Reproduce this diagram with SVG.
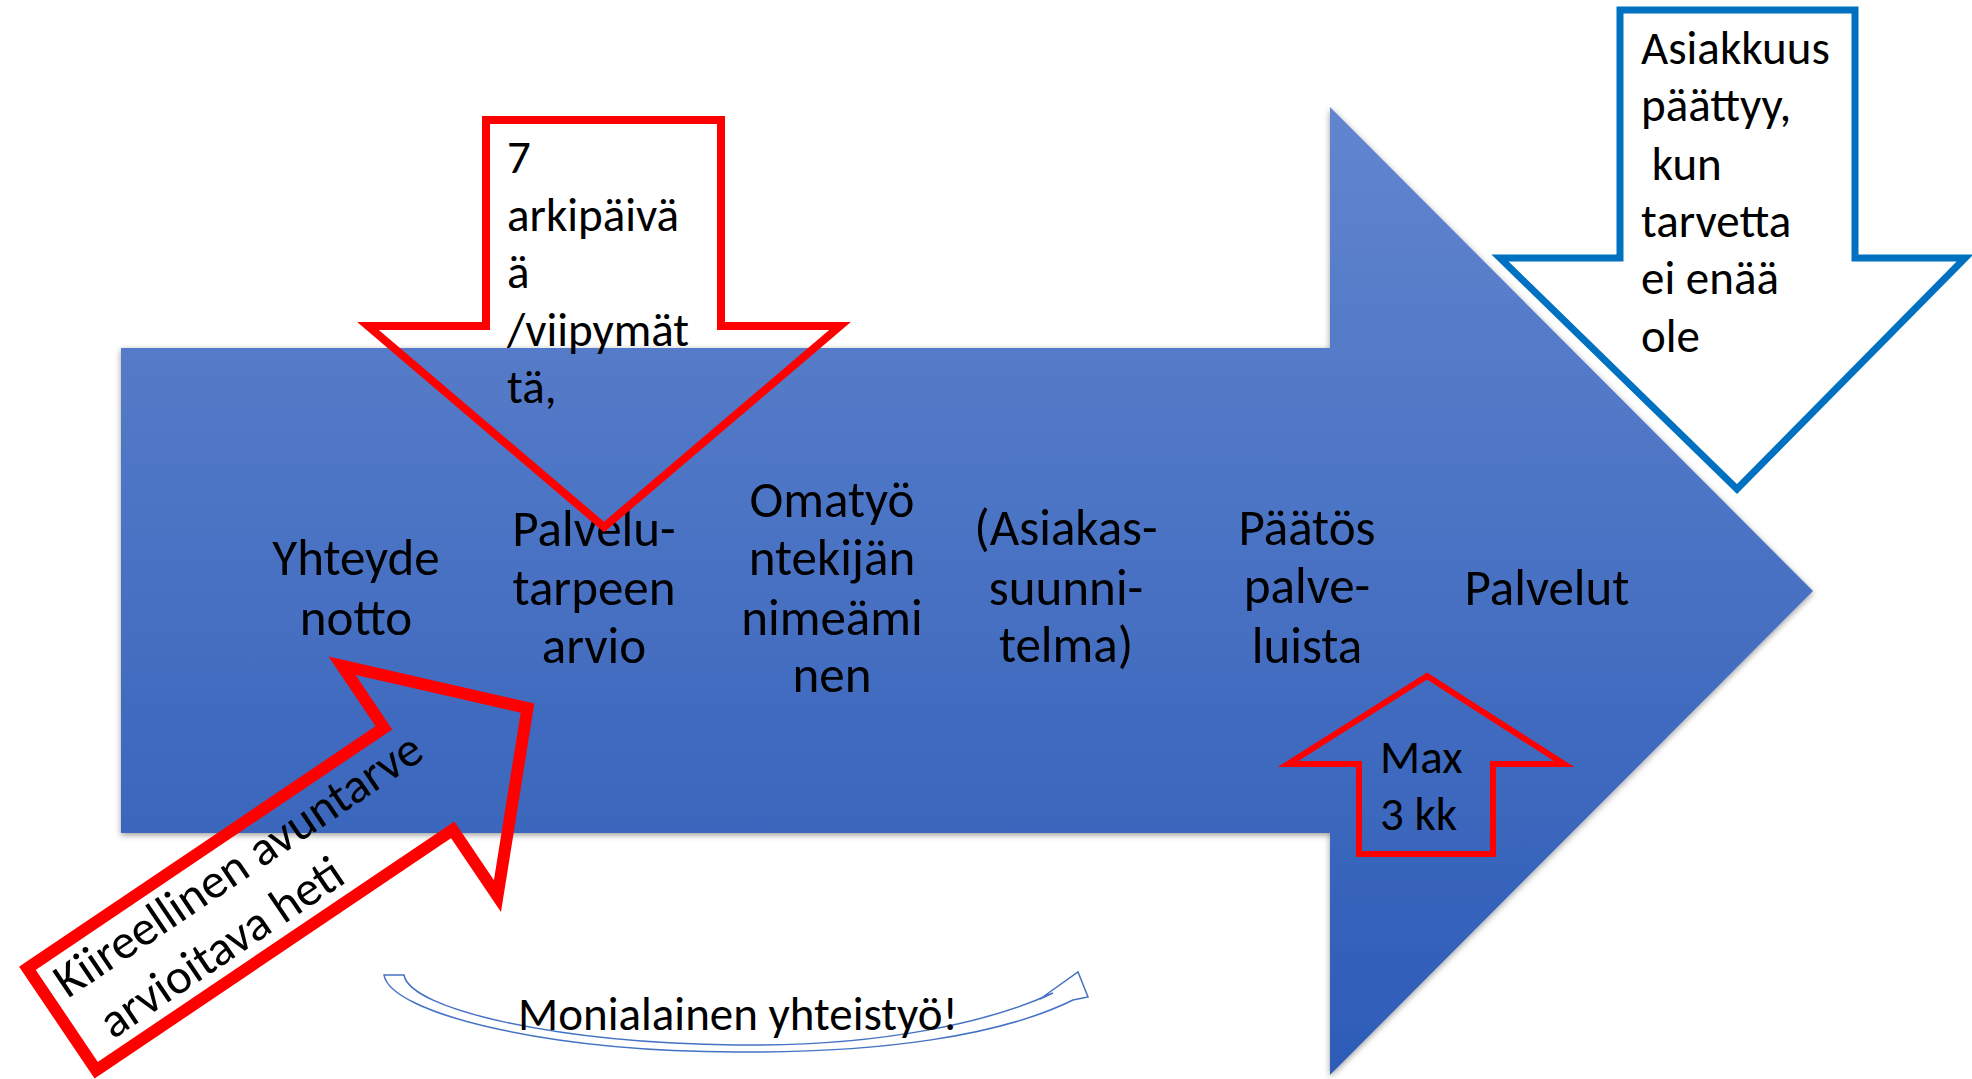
<svg xmlns="http://www.w3.org/2000/svg" width="1972" height="1079" viewBox="0 0 1972 1079">
  <defs>
    <linearGradient id="bigGrad" gradientUnits="userSpaceOnUse" x1="0" y1="107" x2="0" y2="1075">
      <stop offset="0" stop-color="#6285CE"/>
      <stop offset="1" stop-color="#2D5CB7"/>
    </linearGradient>
    <filter id="shadow" x="-5%" y="-5%" width="110%" height="110%">
      <feDropShadow dx="0" dy="2" stdDeviation="3" flood-color="#000" flood-opacity="0.4"/>
    </filter>
  </defs>
  <style>
    text { font-family: Carlito, Calibri, Lato, "Liberation Sans", sans-serif; fill: #000; }
    .lbl { font-size: 51px; text-anchor: middle; }
    .note { font-size: 47px; }
    .big { font-size: 49px; }
    .red { fill: none; stroke: #FF0000; stroke-linejoin: miter; }
    .blue { fill: #FFFFFF; stroke: #0070C0; stroke-width: 7; stroke-linejoin: miter; }
  </style>
  <rect width="1972" height="1079" fill="#FFFFFF"/>

  <g id="process-arrow">
    <polygon points="121,348 1330,348 1330,107 1813,591 1330,1075 1330,833 121,833" fill="url(#bigGrad)" filter="url(#shadow)"/>
    <text class="lbl" x="356" y="575">Yhteyde</text>
    <text class="lbl" x="356" y="635">notto</text>
    <text class="lbl" x="594" y="546">Palvelu-</text>
    <text class="lbl" x="594" y="605">tarpeen</text>
    <text class="lbl" x="594" y="663">arvio</text>
    <text class="lbl" x="832" y="517">Omatyö</text>
    <text class="lbl" x="832" y="575">ntekijän</text>
    <text class="lbl" x="832" y="635">nimeämi</text>
    <text class="lbl" x="832" y="692">nen</text>
    <text class="lbl" x="1066" y="545">(Asiakas-</text>
    <text class="lbl" x="1066" y="605">suunni-</text>
    <text class="lbl" x="1066" y="662">telma)</text>
    <text class="lbl" x="1307" y="545">Päätös</text>
    <text class="lbl" x="1307" y="603">palve-</text>
    <text class="lbl" x="1307" y="663">luista</text>
    <text class="lbl" x="1547" y="605">Palvelut</text>
  </g>

  <g id="arrow-7-days">
    <polygon class="red" stroke-width="8" points="486,120 721,120 721,326 840,326 604,527 368,326 486,326"/>
    <text class="note" x="507" y="173">7</text>
    <text class="note" x="507" y="231">arkipäivä</text>
    <text class="note" x="507" y="288">ä</text>
    <text class="note" x="507" y="346">/viipymät</text>
    <text class="note" x="507" y="403">tä,</text>
  </g>

  <g id="arrow-asiakkuus">
    <polygon class="blue" points="1620,10 1855,10 1855,258 1965,258 1737,489 1500,258 1620,258"/>
    <text class="note" x="1641" y="64">Asiakkuus</text>
    <text class="note" x="1641" y="121">päättyy,</text>
    <text class="note" x="1641" y="180" xml:space="preserve"> kun</text>
    <text class="note" x="1641" y="237">tarvetta</text>
    <text class="note" x="1641" y="294">ei enää</text>
    <text class="note" x="1641" y="352">ole</text>
  </g>

  <g id="arrow-max">
    <polygon class="red" stroke-width="6" points="1427,676 1564,764 1493,764 1493,854 1359,854 1359,764 1288,764"/>
    <text class="note" x="1380" y="773">Max</text>
    <text class="note" x="1380" y="830">3 kk</text>
  </g>

  <g id="arrow-kiireellinen" transform="translate(18,965) rotate(-34)">
    <polygon class="red" stroke-width="12" points="6,8 436,8 436,-67 566,72 436,211 436,131 6,131"/>
    <text class="big" x="22" y="56">Kiireellinen avuntarve</text>
    <text class="big" x="37" y="115">arvioitava heti</text>
  </g>

  <g id="connectors">
    <path d="M384,975 H404 C410,1010 560,1043 736,1045 C880,1047 990,1022 1053,993 L1040,999 L1078,972 L1088,997 L1073,1000 C1000,1036 880,1053 736,1052 C540,1051 390,1012 384,975 Z" fill="#FFFFFF" stroke="#4472C4" stroke-width="1.5" stroke-linejoin="miter"/>
    <text class="note" x="738" y="1030" text-anchor="middle">Monialainen yhteistyö!</text>
  </g>
</svg>
